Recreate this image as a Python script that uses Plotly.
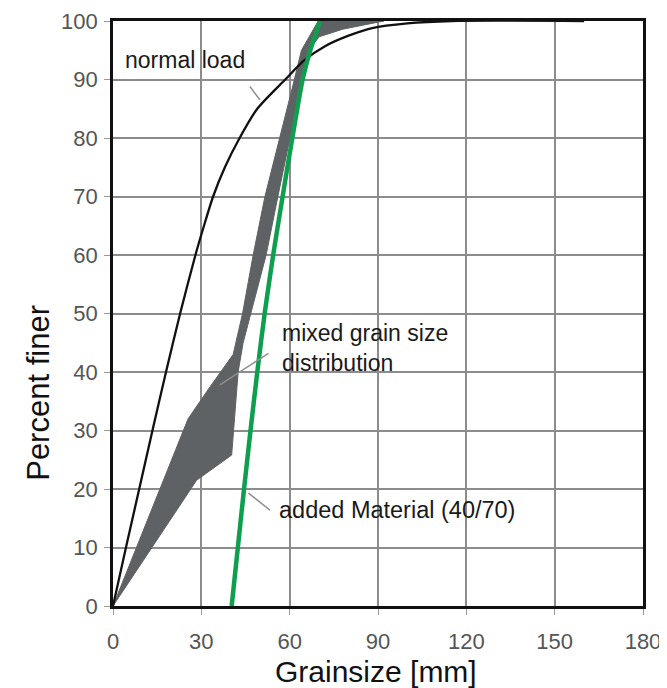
import plotly.graph_objects as go

# Normal load grading curve
normal_x = [0, 4.4, 8.9, 13.4, 18, 22.8, 28, 30.9, 34, 38, 43, 49, 58.5, 65, 72, 80, 88, 100, 115, 160]
normal_y = [0, 10, 20, 30, 40, 50, 60, 65, 70, 75, 80, 85, 90, 93.3, 95.7, 97.5, 98.8, 99.6, 100, 100]

# Added material (40/70)
added_x = [40.3, 42.4, 44.5, 46.7, 49.0, 51.5, 54.4, 57.6, 60.9, 64.4, 67, 70.3]
added_y = [0, 10, 20, 30, 40, 50, 60, 70, 80, 90, 95, 100]

# Mixed grain size distribution band: upper (left) and lower (right) bounds
mix_upper_x = [0, 25.5, 33, 40.8, 44, 47.6, 51.6, 56.7, 61.6, 64, 69.7, 92]
mix_upper_y = [0, 32, 37.5, 43, 50, 60, 70, 80, 90, 95, 100, 100]
mix_lower_x = [0, 28.4, 40.3, 42.5, 44.2, 46.8, 52, 56, 60.1, 63.8, 66.5, 70, 78, 88, 92]
mix_lower_y = [0, 21.5, 25.8, 40, 45, 50, 60, 70, 80, 90, 95, 97.3, 98.6, 99.6, 100]

x_ticks = [0, 30, 60, 90, 120, 150, 180]
y_ticks = [0, 10, 20, 30, 40, 50, 60, 70, 80, 90, 100]

FONT = "Liberation Sans, Arial, sans-serif"

fig = go.Figure()

poly_x = mix_upper_x + mix_lower_x[::-1]
poly_y = mix_upper_y + mix_lower_y[::-1]
fig.add_trace(go.Scatter(x=poly_x, y=poly_y, mode="lines", fill="toself",
                         fillcolor="#5f6264", line=dict(color="#5f6264", width=1),
                         showlegend=False, hoverinfo="skip"))
fig.add_trace(go.Scatter(x=normal_x, y=normal_y, mode="lines",
                         line=dict(color="#111111", width=2.3, shape="spline", smoothing=0.7),
                         showlegend=False))
fig.add_trace(go.Scatter(x=added_x, y=added_y, mode="lines",
                         line=dict(color="#0e9f4e", width=4.5, shape="spline", smoothing=0.7),
                         showlegend=False))

# leader lines
leaders = [((52.8, 43.2), (36.3, 37.8)), ((53.3, 16.4), (46.0, 19.3)), ((46.5, 88.8), (49.9, 86.5))]
for (x0, y0), (x1, y1) in leaders:
    fig.add_shape(type="line", x0=x0, y0=y0, x1=x1, y1=y1, xref="x", yref="y",
                  line=dict(color="#8f8f8f", width=1.5))

txt_font = dict(family=FONT, size=23, color="#1a1a1a")
fig.add_annotation(x=3.4, y=93.3, text="normal load", showarrow=False, xanchor="left",
                   yanchor="middle", font=txt_font)
fig.add_annotation(x=56.8, y=44.1, text="mixed grain size<br>distribution", showarrow=False,
                   xanchor="left", yanchor="middle", align="left", font=txt_font)
fig.add_annotation(x=55.8, y=16.4, text="added Material (40/70)", showarrow=False,
                   xanchor="left", yanchor="middle", font=dict(family=FONT, size=23.5, color="#1a1a1a"))

# axis titles
fig.add_annotation(x=89.3, y=-0.112, xref="x", yref="paper", text="Grainsize [mm]",
                   showarrow=False, xanchor="center", yanchor="middle",
                   font=dict(family=FONT, size=30, color="#111111"))
fig.add_annotation(x=-0.142, y=36.4, xref="paper", yref="y", text="Percent finer",
                   showarrow=False, xanchor="center", yanchor="middle", textangle=-90,
                   font=dict(family=FONT, size=31, color="#111111"))

axis_common = dict(showline=True, linecolor="#111111", linewidth=2.6, mirror=True,
                   showgrid=True, gridcolor="#8c8c8c", gridwidth=1.6, zeroline=False,
                   ticks="outside", ticklen=6, tickcolor="#9a9a9a", tickwidth=1,
                   automargin=False,
                   tickfont=dict(family=FONT, size=22, color="#555555"))

fig.update_xaxes(range=[0, 180], tickvals=x_ticks, ticktext=[str(v) for v in x_ticks],
                 ticklabelstandoff=8, **axis_common)
fig.update_yaxes(range=[0, 100], tickvals=y_ticks, ticktext=[str(v) for v in y_ticks],
                 ticklabelstandoff=2, **axis_common)

# page body adds an 8px offset; margins compensate so the plot area lands where the reference has it
fig.update_layout(width=667, height=688, margin=dict(l=105, r=32, t=13, b=90),
                  plot_bgcolor="white", paper_bgcolor="white", showlegend=False)

fig.write_html("out.html")
